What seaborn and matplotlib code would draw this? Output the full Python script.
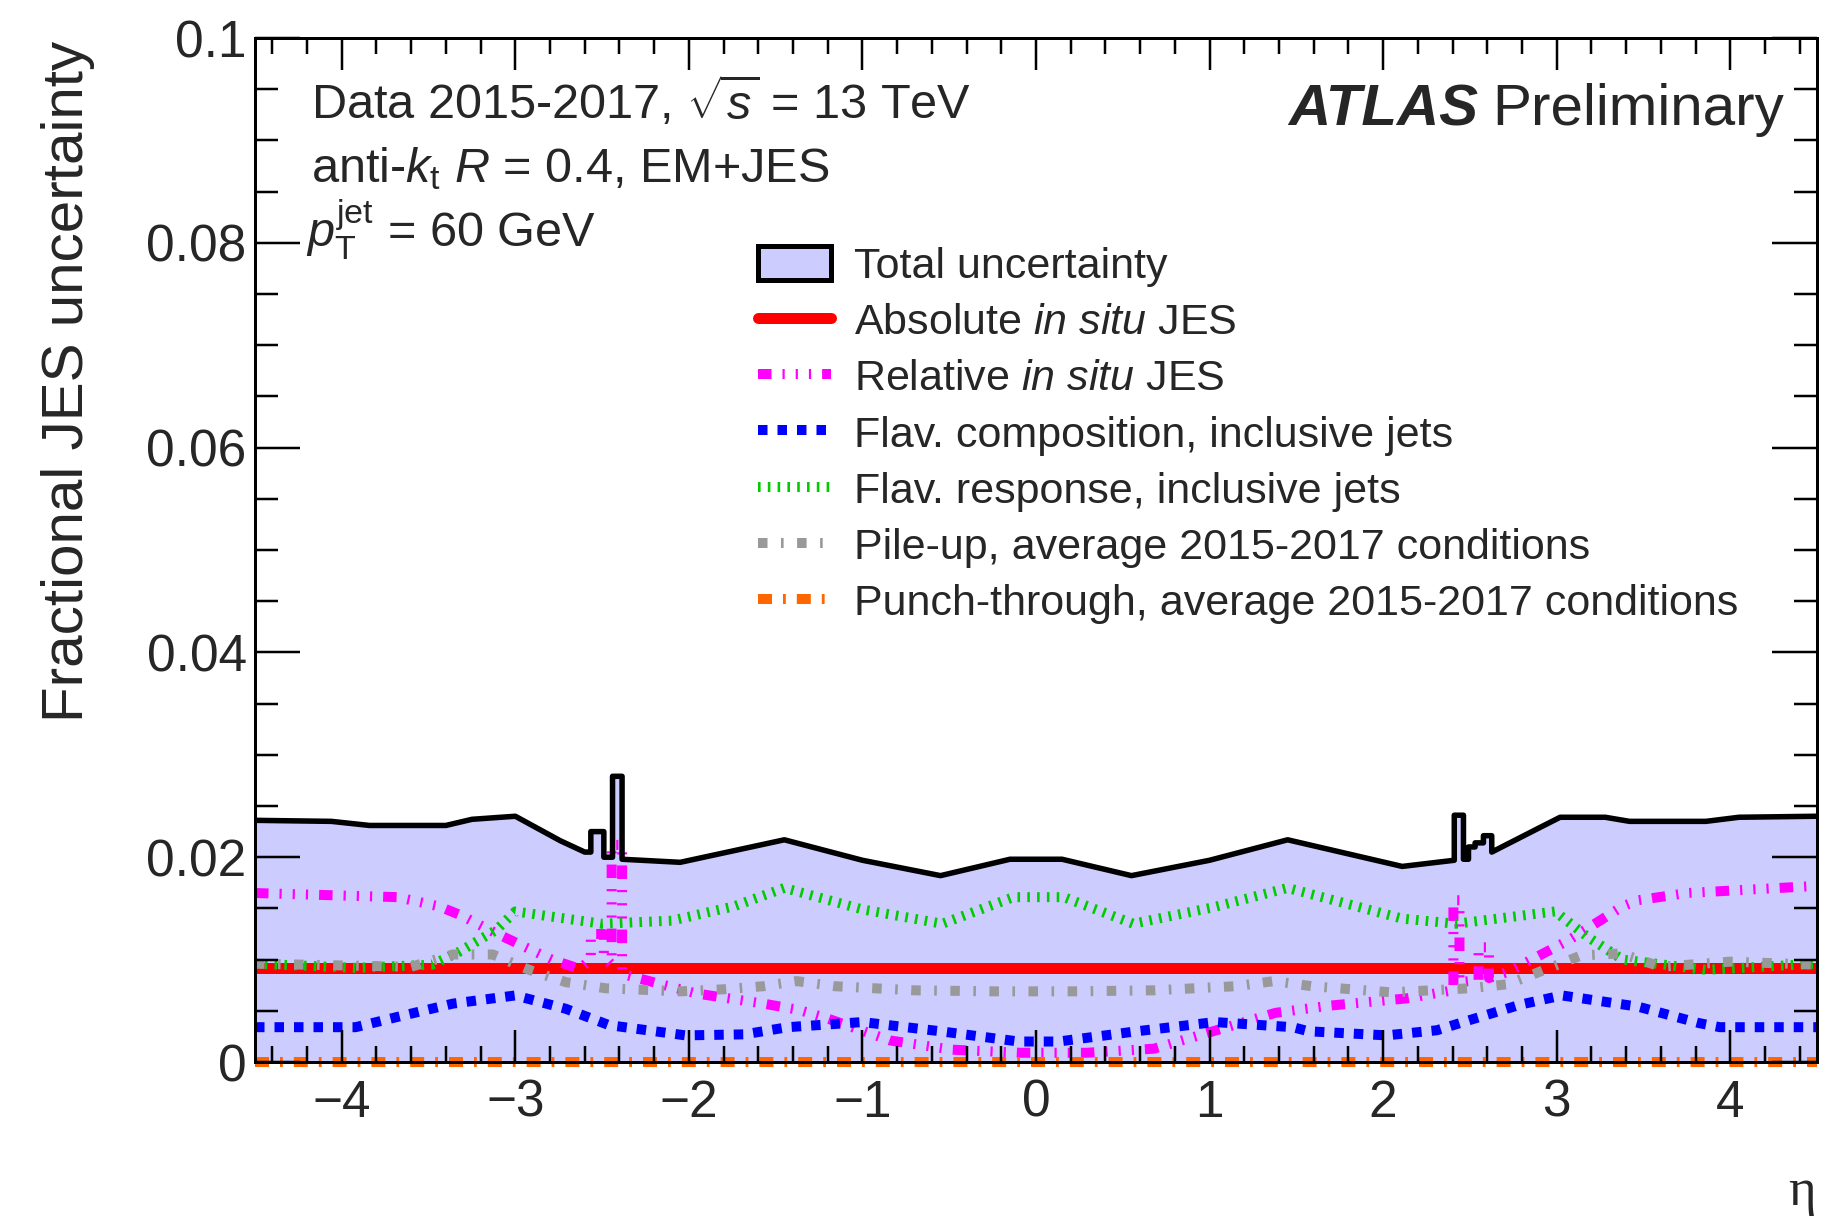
import matplotlib
matplotlib.use("Agg")
import matplotlib.pyplot as plt
import seaborn as sns
from matplotlib.patches import Patch
from matplotlib.lines import Line2D
from matplotlib.ticker import MultipleLocator, FuncFormatter

# ---------------------------------------------------------------------------
# Fractional JES uncertainty components versus eta at pT = 60 GeV
# ---------------------------------------------------------------------------
total_eta = [-4.50, -4.06, -3.84, -3.40, -3.25, -3.00, -2.74, -2.60, -2.565, -2.565,
             -2.49, -2.49, -2.44, -2.44, -2.385, -2.385, -2.05, -1.45, -1.00, -0.55,
             -0.15, 0.15, 0.55, 1.00, 1.45, 2.11, 2.41, 2.41, 2.463, 2.463,
             2.492, 2.492, 2.53, 2.53, 2.578, 2.578, 2.626, 2.626, 2.915, 3.02,
             3.28, 3.42, 3.86, 4.05, 4.50]
total_unc = [0.0236, 0.0235, 0.0231, 0.0231, 0.0237, 0.0240, 0.0216, 0.0205, 0.0205, 0.0225,
             0.0225, 0.0200, 0.0200, 0.0279, 0.0279, 0.0198, 0.0195, 0.0217, 0.0197, 0.0182,
             0.0198, 0.0198, 0.0182, 0.0197, 0.0217, 0.0191, 0.0197, 0.0241, 0.0241, 0.0198,
             0.0198, 0.0210, 0.0210, 0.0214, 0.0214, 0.0221, 0.0221, 0.0205, 0.0230, 0.0239,
             0.0239, 0.0235, 0.0235, 0.0239, 0.0240]

abs_eta = [-4.5, 0.0, 4.5]
abs_unc = [0.0092, 0.0092, 0.0092]

rel_eta = [-4.50, -3.68, -3.44, -3.31, -3.15, -2.99, -2.79, -2.63, -2.565, -2.565,
           -2.49, -2.49, -2.445, -2.445, -2.385, -2.385, -1.96, -1.57, -1.37, -1.21,
           -0.84, -0.48, -0.09, 0.29, 0.68, 1.02, 1.38, 1.69, 2.13, 2.405,
           2.405, 2.44, 2.44, 2.55, 2.55, 2.61, 2.61, 2.72, 3.07, 3.38,
           3.47, 3.75, 4.50]
rel_unc = [0.0165, 0.0161, 0.0152, 0.0143, 0.0129, 0.0116, 0.0100, 0.0091, 0.0100, 0.0125,
           0.0125, 0.0103, 0.0095, 0.0212, 0.0212, 0.0086, 0.0067, 0.0057, 0.0051, 0.0043,
           0.0021, 0.0012, 0.0009, 0.0009, 0.0013, 0.0030, 0.0048, 0.0055, 0.0062, 0.0070,
           0.0158, 0.0158, 0.0078, 0.0080, 0.0112, 0.0112, 0.0082, 0.0088, 0.0119, 0.0152,
           0.0158, 0.0165, 0.0172]

fcomp_eta = [-4.50, -3.92, -3.68, -3.36, -3.00, -2.71, -2.46, -2.02, -1.68, -1.43,
             -1.00, -0.55, -0.10, 0.13, 0.58, 1.03, 1.48, 1.57, 2.02, 2.31,
             2.50, 2.79, 3.03, 3.47, 3.82, 3.94, 4.50]
fcomp_unc = [0.0034, 0.0034, 0.0044, 0.0057, 0.0065, 0.0052, 0.0036, 0.0026, 0.0027, 0.0034,
             0.0039, 0.0030, 0.0020, 0.0020, 0.0030, 0.0039, 0.0034, 0.0030, 0.0026, 0.0031,
             0.0041, 0.0056, 0.0065, 0.0054, 0.0038, 0.0034, 0.0034]

fresp_eta = [-4.50, -3.92, -3.48, -3.32, -3.11, -3.00, -2.50, -2.10, -1.74, -1.45,
             -1.00, -0.54, -0.13, 0.16, 0.56, 1.02, 1.45, 2.11, 2.42, 2.99,
             3.18, 3.38, 3.86, 4.50]
fresp_unc = [0.0096, 0.0092, 0.0095, 0.0108, 0.0129, 0.0147, 0.0135, 0.0138, 0.0152, 0.0170,
             0.0149, 0.0135, 0.0161, 0.0161, 0.0135, 0.0151, 0.0170, 0.0140, 0.0135, 0.0147,
             0.0122, 0.0100, 0.0090, 0.0096]

pu_eta = [-4.50, -3.60, -3.36, -3.13, -2.92, -2.71, -2.48, -2.05, -1.80, -1.57,
          -1.38, -1.16, -0.70, -0.24, 0.22, 0.68, 1.15, 1.37, 1.59, 2.05,
          2.50, 2.72, 2.93, 3.14, 3.37, 3.60, 4.00, 4.50]
pu_unc = [0.0096, 0.0093, 0.0105, 0.0105, 0.0090, 0.0078, 0.0072, 0.0069, 0.0071, 0.0074,
          0.0079, 0.0074, 0.0070, 0.0069, 0.0069, 0.0070, 0.0074, 0.0079, 0.0074, 0.0068,
          0.0072, 0.0076, 0.0090, 0.0104, 0.0106, 0.0093, 0.0098, 0.0095]

pt_eta = [-4.5, 0.0, 4.5]
pt_unc = [0.0, 0.0, 0.0]

labels = [
    "Total uncertainty",
    r"Absolute $\mathit{in\ situ}$ JES",
    r"Relative $\mathit{in\ situ}$ JES",
    "Flav. composition, inclusive jets",
    "Flav. response, inclusive jets",
    "Pile-up, average 2015-2017 conditions",
    "Punch-through, average 2015-2017 conditions",
]

x_ticks = [-4, -3, -2, -1, 0, 1, 2, 3, 4]
y_ticks = [0.0, 0.02, 0.04, 0.06, 0.08, 0.1]

# ---------------------------------------------------------------------------
sns.set_theme(style="ticks")
plt.rcParams["font.family"] = ["Liberation Sans", "DejaVu Sans"]
plt.rcParams.update({
    "mathtext.fontset": "custom",
    "mathtext.rm": "Liberation Sans",
    "mathtext.it": "Liberation Sans:italic",
    "mathtext.bf": "Liberation Sans:bold",
    "axes.unicode_minus": True,
})

W, H = 1828, 1226
PX = 72.0 / 100.0  # points per pixel at dpi 100

fig = plt.figure(figsize=(W / 100, H / 100), dpi=100)
fig.patch.set_facecolor("white")
ax = fig.add_axes([255 / W, 1 - 1062 / H, (1817 - 255) / W, (1062 - 38) / H])
ax.set_facecolor("white")

fill_color = "#ccccff"

# total band
ax.fill_between(total_eta, 0, total_unc, color=fill_color, linewidth=0, zorder=1)
sns.lineplot(x=total_eta, y=total_unc, ax=ax, color="black", linewidth=5.5 * PX,
             estimator=None, sort=False, zorder=2.2)

lw = 10 * PX
styles = [
    (abs_eta, abs_unc, "#ff0000", 11 * PX, "-"),
    (rel_eta, rel_unc, "#ff00ff", lw, (0, (1.35, 1.1, 0.22, 1.1, 0.22, 1.1, 0.22, 1.1))),
    (fcomp_eta, fcomp_unc, "#0000ff", lw, (0, (0.95, 1.0))),
    (fresp_eta, fresp_unc, "#00cc00", lw, (0, (0.26, 0.72))),
    (pu_eta, pu_unc, "#999999", lw, (0, (0.95, 1.35, 0.26, 1.35))),
    (pt_eta, pt_unc, "#ff6600", lw, (0, (1.4, 1.1, 0.28, 1.1))),
]

handles = [Patch(facecolor=fill_color, edgecolor="black", linewidth=5 * PX)]
for i, (ex, ey, col, w, ls) in enumerate(styles):
    sns.lineplot(x=ex, y=ey, ax=ax, color=col, linewidth=w, linestyle=ls,
                 estimator=None, sort=False, zorder=2 + 0.01 * i,
                 clip_on=(i != len(styles) - 1))
    handles.append(Line2D([], [], color=col, linewidth=w, linestyle=ls))

ax.set_xlim(-4.5, 4.5)
ax.set_ylim(0, 0.1)
ax.set_xlabel("")
ax.set_ylabel("")
ax.set_axisbelow(False)

ax.xaxis.set_major_locator(plt.FixedLocator(x_ticks))
ax.xaxis.set_minor_locator(MultipleLocator(0.2))
ax.yaxis.set_major_locator(plt.FixedLocator(y_ticks))
ax.yaxis.set_minor_locator(MultipleLocator(0.005))
ax.xaxis.set_major_formatter(FuncFormatter(lambda v, p: f"{v:g}".replace("-", "\u2212")))
ax.yaxis.set_major_formatter(FuncFormatter(lambda v, p: f"{v:g}"))

for s in ax.spines.values():
    s.set_linewidth(3 * PX)
    s.set_color("black")
    s.set_visible(True)

ax.tick_params(axis="both", which="both", direction="in", top=True, right=True,
               color="black", width=2.5 * PX, labelsize=37)
ax.tick_params(axis="x", which="major", length=32 * PX, pad=12)
ax.tick_params(axis="x", which="minor", length=16 * PX)
ax.tick_params(axis="y", which="major", length=45 * PX, pad=6)
ax.tick_params(axis="y", which="minor", length=23 * PX)

leg = ax.legend(handles, labels, loc="upper left",
                bbox_to_anchor=(758 / W, 1 - 246 / H), bbox_transform=fig.transFigure,
                frameon=False, fontsize=31, handlelength=1.7, handleheight=0.85,
                handletextpad=0.53, labelspacing=0.35, borderpad=0, borderaxespad=0)

# annotations
fig.text(311 / W, 1 - 119 / H, r"Data 2015-2017, $\sqrt{s}$ = 13 TeV", fontsize=35, va="baseline")
fig.text(311 / W, 1 - 182 / H, r"anti-$k_{\mathrm{t}}$ $R$ = 0.4, EM+JES", fontsize=35, va="baseline")
fig.text(306 / W, 1 - 247 / H, r"$p_{\mathrm{T}}^{\mathrm{jet}}$ = 60 GeV", fontsize=35, va="baseline")
fig.text(1478 / W, 1 - 125 / H, "ATLAS", fontsize=42, fontweight="bold", fontstyle="italic",
         ha="right", va="baseline")
fig.text(1784 / W, 1 - 125 / H, "Preliminary", fontsize=42, ha="right", va="baseline")

fig.text(68 / W, 1 - 41 / H, "Fractional JES uncertainty", rotation=90, ha="center", va="top",
         fontsize=42)
fig.text(1816 / W, 1 - 1205 / H, "\u03b7", fontsize=38, ha="right", va="baseline",
         family=["Liberation Serif", "DejaVu Serif"])

fig.savefig("out.png", dpi=100, facecolor="white")
